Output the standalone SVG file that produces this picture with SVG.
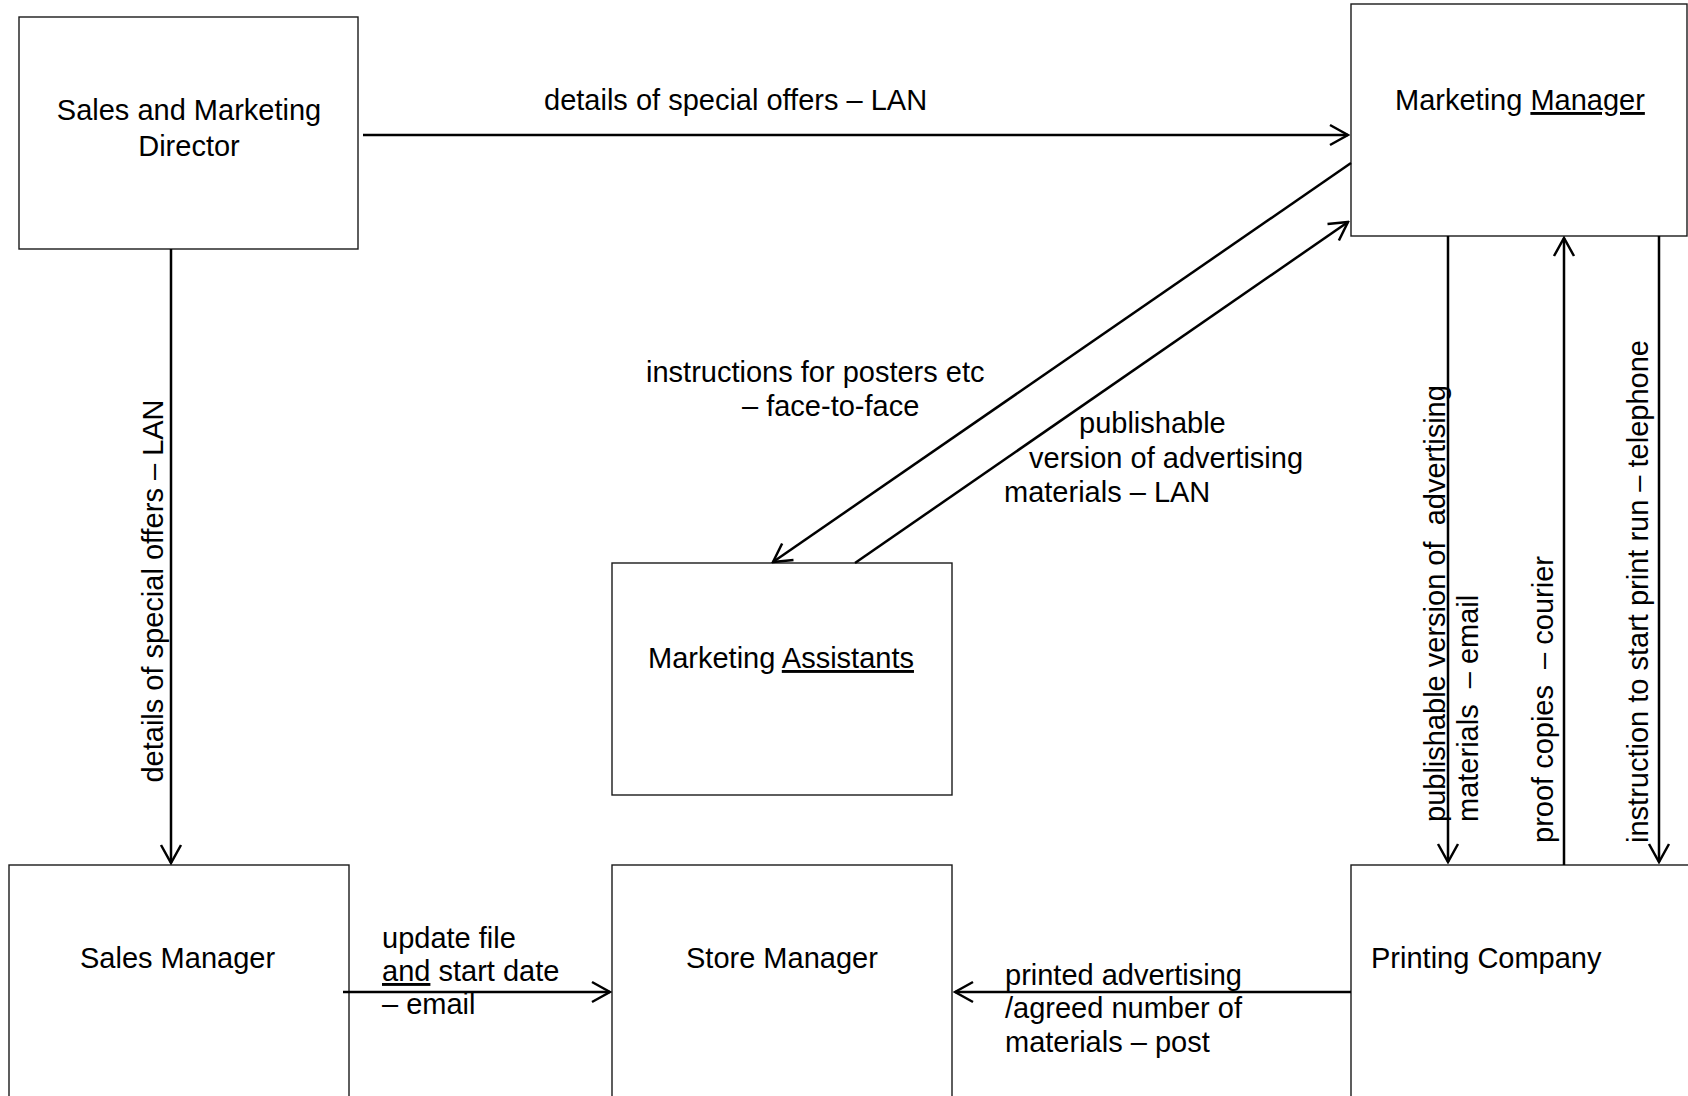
<svg xmlns="http://www.w3.org/2000/svg" width="1688" height="1096" viewBox="0 0 1688 1096">
  <style>
    .box { fill: #ffffff; stroke: #1a1a1a; stroke-width: 1.4; }
    .t { font-family: "Liberation Sans", Arial, sans-serif; font-size: 29px; fill: #000000; }
    .mid { text-anchor: middle; }
    .ul { text-decoration: underline; }
    .conn { stroke: #000000; stroke-width: 2.5; fill: none; }
  </style>
  <defs>
    <marker id="arrow" markerUnits="userSpaceOnUse" viewBox="-22 -13 24 26" markerWidth="24" markerHeight="26" refX="0" refY="0" orient="auto">
      <path d="M -18 -10 L 0 0 L -18 10" fill="none" stroke="#000000" stroke-width="2.5"/>
    </marker>
  </defs>
  <rect width="1688" height="1096" fill="#ffffff"/>

  <g id="node-sales-marketing-director">
    <rect class="box" x="19" y="17" width="339" height="232"/>
    <text class="t mid" x="189" y="120">Sales and Marketing</text>
    <text class="t mid" x="189" y="156">Director</text>
  </g>

  <g id="node-marketing-manager">
    <rect class="box" x="1351" y="4" width="336" height="232"/>
    <text class="t" x="1395" y="110">Marketing <tspan class="ul">Manager</tspan></text>
  </g>

  <g id="node-marketing-assistants">
    <rect class="box" x="612" y="563" width="340" height="232"/>
    <text class="t" x="648" y="668">Marketing <tspan class="ul">Assistants</tspan></text>
  </g>

  <g id="node-sales-manager">
    <rect class="box" x="9" y="865" width="340" height="240"/>
    <text class="t" x="80" y="968">Sales Manager</text>
  </g>

  <g id="node-store-manager">
    <rect class="box" x="612" y="865" width="340" height="240"/>
    <text class="t" x="686" y="968">Store Manager</text>
  </g>

  <g id="node-printing-company">
    <rect class="box" x="1351" y="865" width="345" height="240"/>
    <text class="t" x="1371" y="968">Printing Company</text>
  </g>

  <g id="connectors">
    <line class="conn" x1="363" y1="135" x2="1348" y2="135" marker-end="url(#arrow)"/>
    <line class="conn" x1="171" y1="249" x2="171" y2="863" marker-end="url(#arrow)"/>
    <line class="conn" x1="1351" y1="163" x2="773" y2="562" marker-end="url(#arrow)"/>
    <line class="conn" x1="855" y1="563" x2="1348" y2="222" marker-end="url(#arrow)"/>
    <line class="conn" x1="1448" y1="236" x2="1448" y2="862" marker-end="url(#arrow)"/>
    <line class="conn" x1="1564" y1="865" x2="1564" y2="238" marker-end="url(#arrow)"/>
    <line class="conn" x1="1659" y1="236" x2="1659" y2="862" marker-end="url(#arrow)"/>
    <line class="conn" x1="343" y1="992" x2="610" y2="992" marker-end="url(#arrow)"/>
    <line class="conn" x1="1351" y1="992" x2="955" y2="992" marker-end="url(#arrow)"/>
  </g>

  <g id="labels">
    <text class="t" x="544" y="110">details of special offers – LAN</text>
    <text class="t mid" transform="translate(163,591) rotate(-90)" x="0" y="0">details of special offers – LAN</text>

    <text class="t" x="646" y="382">instructions for posters etc</text>
    <text class="t" x="742" y="416">– face-to-face</text>

    <text class="t" x="1079" y="433">publishable</text>
    <text class="t" x="1029" y="468">version of advertising</text>
    <text class="t" x="1004" y="502">materials – LAN</text>

    <text class="t" xml:space="preserve" transform="translate(1445,822) rotate(-90)" x="0" y="0">publishable version of  advertising</text>
    <text class="t" xml:space="preserve" transform="translate(1478,822) rotate(-90)" x="0" y="0">materials  – email</text>
    <text class="t" xml:space="preserve" transform="translate(1553,843) rotate(-90)" x="0" y="0">proof copies  – courier</text>
    <text class="t" transform="translate(1648,843) rotate(-90)" x="0" y="0">instruction to start print run – telephone</text>

    <text class="t" x="382" y="948">update file</text>
    <text class="t" x="382" y="981"><tspan class="ul">and</tspan> start date</text>
    <text class="t" x="382" y="1014">– email</text>

    <text class="t" x="1005" y="985">printed advertising</text>
    <text class="t" x="1005" y="1018">/agreed number of</text>
    <text class="t" x="1005" y="1052">materials – post</text>
  </g>
</svg>
